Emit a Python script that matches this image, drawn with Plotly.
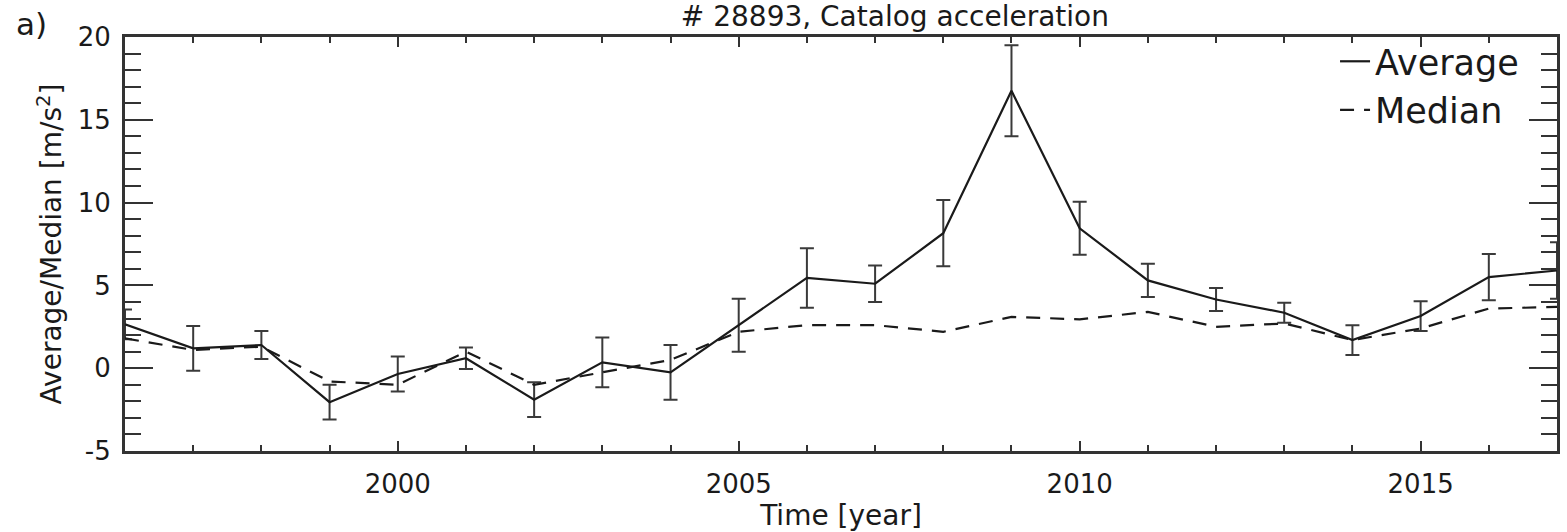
import plotly.graph_objects as go

years = list(range(1996, 2018))
average = [2.65, 1.2, 1.4, -2.05, -0.35, 0.6, -1.9, 0.35, -0.25, 2.6, 5.45,
           5.1, 8.15, 16.75, 8.45, 5.3, 4.15, 3.35, 1.7, 3.15, 5.5, 5.9]
average_err = [0.9, 1.35, 0.85, 1.05, 1.05, 0.65, 1.05, 1.5, 1.65, 1.6, 1.8,
               1.1, 2.0, 2.75, 1.6, 1.0, 0.7, 0.6, 0.9, 0.9, 1.4, 1.7]
median = [1.8, 1.1, 1.3, -0.8, -1.0, 1.0, -1.0, -0.25, 0.5, 2.2, 2.6,
          2.6, 2.2, 3.1, 2.95, 3.4, 2.5, 2.7, 1.7, 2.4, 3.6, 3.7]

y_tick_values = [-5, 0, 5, 10, 15, 20]
y_tick_labels = ["-5", "0", "5", "10", "15", "20"]
x_tick_values = [2000, 2005, 2010, 2015]
x_tick_labels = ["2000", "2005", "2010", "2015"]

FONT = "DejaVu Sans"
INK = "#1a1a1a"
AX = "#333333"

fig = go.Figure()
fig.add_trace(go.Scatter(
    x=years, y=average, mode="lines", name="Average",
    line=dict(color=INK, width=2.2),
    error_y=dict(type="data", array=average_err, visible=True,
                 color="#3a3a3a", thickness=2, width=7),
))
fig.add_trace(go.Scatter(
    x=years, y=median, mode="lines", name="Median",
    line=dict(color=INK, width=2.2, dash="14px,10px"),
))

W, H = 1567, 532
L, R, T, B = 125, 7, 37, 81

fig.update_layout(
    width=W, height=H,
    margin=dict(l=L, r=R, t=T, b=B, pad=0),
    paper_bgcolor="white", plot_bgcolor="white",
    font=dict(family=FONT, color=INK, size=26),
    title=dict(text="# 28893, Catalog acceleration",
               font=dict(family=FONT, size=28, color=INK),
               x=(L + (W - L - R) / 2) / W, xanchor="center", xref="paper",
               y=1 - 16 / H, yanchor="middle", yref="container"),
    showlegend=True,
    legend=dict(x=0.845, y=1.012, xanchor="left", yanchor="top",
                bgcolor="rgba(0,0,0,0)", borderwidth=0,
                font=dict(family=FONT, size=35, color=INK),
                tracegroupgap=0),
    annotations=[dict(text="a)", xref="paper", yref="paper",
                      x=-(L - 14) / (W - L - R), y=1 + (T - 4) / (H - T - B),
                      xanchor="left", yanchor="top", showarrow=False,
                      font=dict(family=FONT, size=31, color=INK))],
)

fig.update_xaxes(
    range=[1996, 2017], tickmode="array",
    tickvals=x_tick_values, ticktext=x_tick_labels,
    ticks="inside", ticklen=10, tickwidth=2, tickcolor=AX,
    minor=dict(dtick=1, tick0=2000, ticks="inside", ticklen=6, tickwidth=1.5,
               tickcolor=AX),
    showline=True, linewidth=3, linecolor=AX, mirror="ticks",
    showgrid=False, zeroline=False,
    tickfont=dict(family=FONT, size=26, color=INK),
    ticklabelstandoff=8,
    title=dict(text="Time [year]", font=dict(family=FONT, size=28, color=INK),
               standoff=4),
)
fig.update_yaxes(
    range=[-5, 20], tickmode="array",
    tickvals=y_tick_values, ticktext=y_tick_labels,
    ticks="inside", ticklen=28, tickwidth=2, tickcolor=AX,
    minor=dict(dtick=1, tick0=0, ticks="inside", ticklen=16, tickwidth=1.5,
               tickcolor=AX),
    showline=True, linewidth=3, linecolor=AX, mirror="ticks",
    showgrid=False, zeroline=False,
    tickfont=dict(family=FONT, size=26, color=INK),
    ticklabelstandoff=6,
    title=dict(text="Average/Median [m/s<sup>2</sup>]",
               font=dict(family=FONT, size=28, color=INK), standoff=8),
)

fig.write_html("out.html")
